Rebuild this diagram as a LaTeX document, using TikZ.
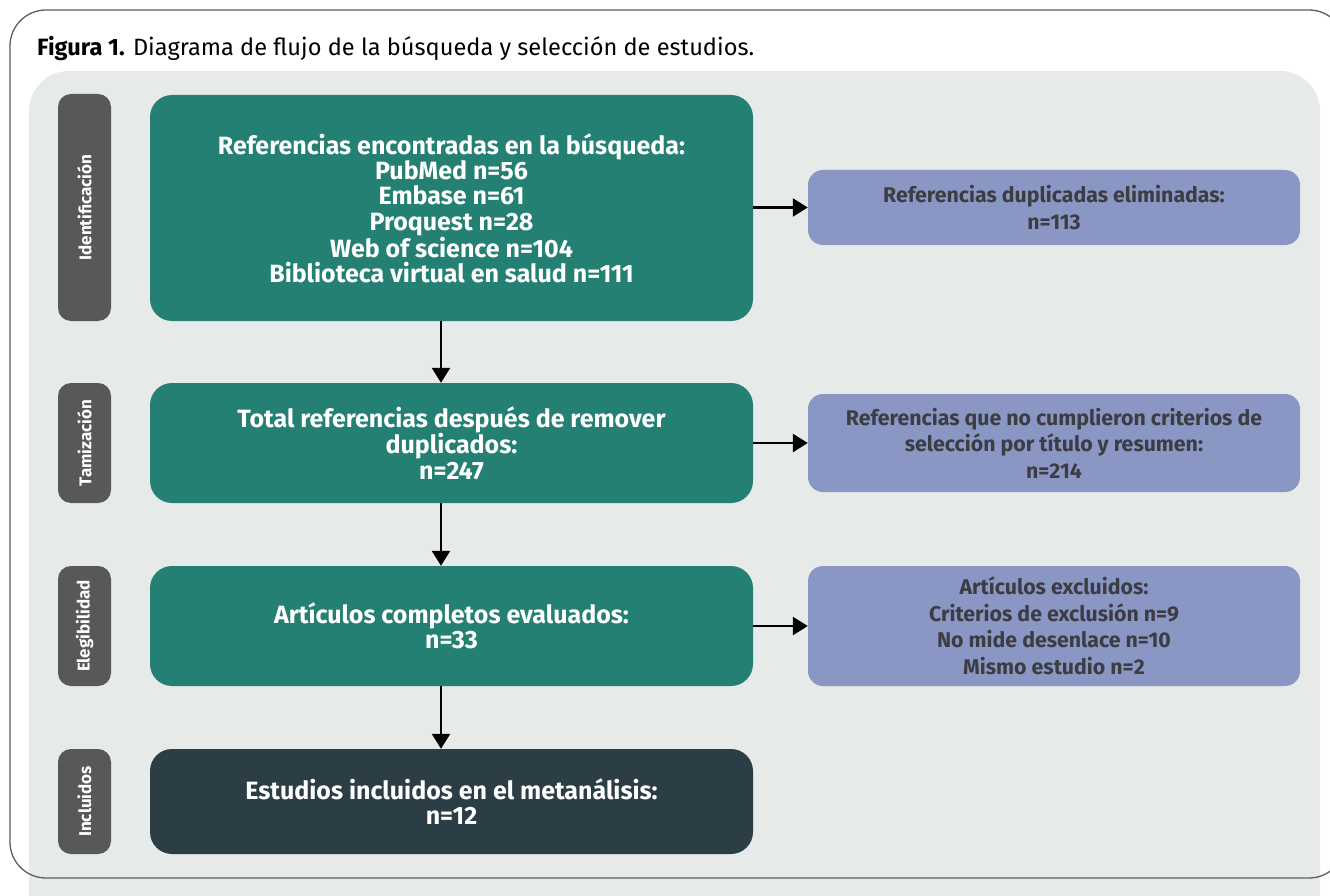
\documentclass[tikz,border=0pt]{standalone}
\usepackage{fontspec}
\setmainfont{Fira Sans}
\newfontfamily\condfont{Fira Sans}
\usetikzlibrary{arrows.meta}
\definecolor{bgpanel}{HTML}{E6EAE9}
\definecolor{framecol}{HTML}{5E5E5E}
\definecolor{greenbox}{HTML}{248073}
\definecolor{sidegray}{HTML}{58585A}
\definecolor{darkbox}{HTML}{2B3E45}
\definecolor{purplebox}{HTML}{8A97C5}
\definecolor{purpletext}{HTML}{3C3D42}
\tikzset{
  mainbox/.style={draw=none, fill=greenbox, rounded corners=22pt, minimum width=603pt, text=white, align=center,
    font=\condfont\bfseries\fontsize{25}{25.4}\selectfont, inner sep=0pt},
  sidebox/.style={draw=none, fill=sidegray, rounded corners=13pt, minimum width=53pt, inner sep=0pt},
  sidetext/.style={text=white, rotate=90, font=\condfont\bfseries\fontsize{17}{19}\selectfont, inner sep=0pt},
  rightbox/.style={draw=none, fill=purplebox, rounded corners=15pt, minimum width=492pt, text=purpletext, align=center,
    font=\condfont\bfseries\fontsize{21.3}{26.5}\selectfont, inner sep=0pt},
  flowarrow/.style={draw=black, line width=2.5pt, -{Triangle[length=15pt,width=18pt]}}
}
\begin{document}
\begin{tikzpicture}[x=1pt,y=-1pt]
\useasboundingbox (0,0) rectangle (1330,896);
\begin{scope}
\clip (0,0) rectangle (1330,896);
\fill[bgpanel, rounded corners=40pt] (29,71) rectangle (1320,930);
\draw[framecol, line width=1.3pt, rounded corners=36pt] (10,10) rectangle (1345,878);
\end{scope}
\node[anchor=base west, inner sep=0pt, font=\fontsize{23.6}{26}\selectfont] (title) at (37,56) {\textbf{Figura 1.} Diagrama de flujo de la búsqueda y selección de estudios.};
% side labels
\node[sidebox, minimum height=227pt] (s1) at (84.5,207.5) {};
\node[sidetext] at (s1) {Identificación};
\node[sidebox, minimum height=120pt] (s2) at (84.5,443) {};
\node[sidetext] at (s2) {Tamización};
\node[sidebox, minimum height=120pt] (s3) at (84.5,626) {};
\node[sidetext] at (s3) {Elegibilidad};
\node[sidebox, minimum height=105pt] (s4) at (84.5,801.5) {};
\node[sidetext] at (s4) {Incluidos};
% main boxes
\node[mainbox, minimum height=226pt] (m1) at (451.5,208) {Referencias encontradas en la búsqueda:\\PubMed n=56\\Embase n=61\\Proquest n=28\\Web of science n=104\\Biblioteca virtual en salud n=111};
\node[mainbox, minimum height=120pt] (m2) at (451.5,443) {Total referencias después de remover\\duplicados:\\n=247};
\node[mainbox, minimum height=120pt] (m3) at (451.5,626) {Artículos completos evaluados:\\n=33};
\node[mainbox, fill=darkbox, minimum height=105pt] (m4) at (451.5,801.5) {Estudios incluidos en el metanálisis:\\n=12};
% right boxes
\node[rightbox, minimum height=75pt] (r1) at (1054,207.5) {Referencias duplicadas eliminadas:\\n=113};
\node[rightbox, minimum height=98pt] (r2) at (1054,443) {Referencias que no cumplieron criterios de\\selección por título y resumen:\\n=214};
\node[rightbox, minimum height=120pt] (r3) at (1054,626) {Artículos excluidos:\\Criterios de exclusión n=9\\No mide desenlace n=10\\Mismo estudio n=2};
% arrows
\draw[flowarrow] (m1.south -| 441,0) -- (m2.north -| 441,0);
\draw[flowarrow] (m2.south -| 441,0) -- (m3.north -| 441,0);
\draw[flowarrow] (m3.south -| 441,0) -- (m4.north -| 441,0);
\draw[flowarrow] (m1.east |- r1.west) -- (r1.west);
\draw[flowarrow] (m2.east |- r2.west) -- (r2.west);
\draw[flowarrow] (m3.east |- r3.west) -- (r3.west);
\end{tikzpicture}
\end{document}
